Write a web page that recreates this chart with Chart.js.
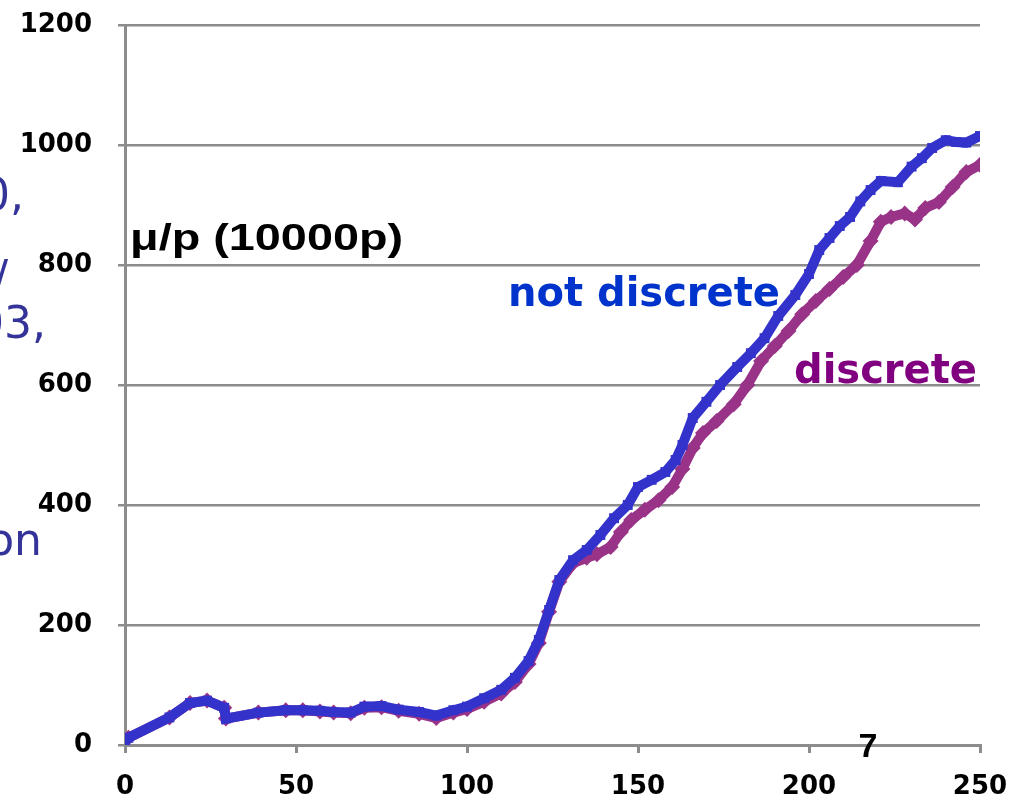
<!DOCTYPE html>
<html>
<head>
<meta charset="utf-8">
<script src="https://cdn.jsdelivr.net/npm/chart.js@4.4.0/dist/chart.umd.min.js"></script>
<style>
  html, body { margin: 0; padding: 0; background: #ffffff; }
  canvas { display: block; }
</style>
</head>
<body>
<canvas id="muChart" width="1012" height="807"></canvas>
<script>
// muons per proton vs. step, continuous vs. discrete energy loss
var notDiscreteX = [0, 1, 13, 19, 24, 29, 29.5, 39, 47, 52, 57, 61, 66, 70, 75, 80, 86, 91, 96, 100,
    105, 110, 114, 118, 121, 124, 127, 131, 135, 139, 143, 147, 150, 154, 158, 161, 163, 166, 170,
    174, 179, 183, 187, 191, 196, 200, 203, 206, 209, 212, 215, 218, 221, 226, 230, 233, 236, 240,
    243, 246, 250];
var notDiscreteY = [8, 12, 46, 70, 74, 62, 44, 54, 58, 58, 57, 55, 54, 64, 65, 59, 55, 49, 58, 64,
    78, 92, 112, 140, 175, 225, 275, 308, 325, 350, 378, 400, 430, 442, 455, 475, 500, 545, 572,
    600, 630, 653, 678, 715, 750, 785, 825, 845, 865, 880, 906, 925, 940, 938, 964, 978, 995, 1008,
    1005, 1004, 1015];

var discreteX = [0, 1, 13, 19, 24, 29, 29.5, 39, 47, 52, 57, 61, 66, 70, 75, 80, 86, 91, 96, 100,
    105, 110, 114, 118, 121, 124, 127, 131, 135, 138, 142, 145, 148, 152, 156, 160, 163, 166, 169,
    173, 178, 182, 186, 190, 194, 198, 202, 206, 210, 214, 218, 221, 224, 228, 231, 234, 238, 242,
    246, 250];
var discreteY = [8, 12, 46, 70, 74, 62, 44, 54, 58, 58, 56, 54, 53, 62, 63, 57, 52, 45, 54, 60,
    72, 86, 105, 135, 170, 222, 272, 303, 312, 318, 330, 355, 375, 392, 408, 430, 460, 495, 520,
    540, 568, 600, 640, 665, 690, 718, 740, 760, 780, 800, 840, 872, 880, 886, 876, 895, 905, 930,
    955, 967];

var yTicks = [0, 200, 400, 600, 800, 1000, 1200];
var xTicks = [0, 50, 100, 150, 200, 250];

function toPoints(xs, ys) {
    return xs.map(function (x, i) { return { x: x, y: ys[i] }; });
}

function plainLabel(value) {
    return String(value);
}

var gray = '#8c8c8c';
var tickFont = { family: '"Comic Sans MS", "DejaVu Sans", sans-serif', size: 26, weight: 'bold' };

// free text drawn on top of the plot
var annotations = {
    id: 'annotations',
    afterDraw: function (chart) {
        var c = chart.ctx;
        c.save();
        c.textBaseline = 'alphabetic';

        c.fillStyle = '#000000';
        c.textAlign = 'left';
        c.font = 'bold 36px "Liberation Sans", "DejaVu Sans", sans-serif';
        c.save();
        c.translate(130, 250);
        c.scale(1.3, 1.05);
        c.fillText('\u03bc/p (10000p)', 0, 0);
        c.restore();

        c.font = 'bold 40px "Comic Sans MS", "DejaVu Sans", sans-serif';
        c.fillStyle = '#0033cc';
        c.fillText('not discrete', 508, 306);
        c.fillStyle = '#800080';
        c.fillText('discrete', 794, 383);

        c.fillStyle = '#000000';
        c.font = 'bold 34px "Liberation Sans", sans-serif';
        c.textAlign = 'center';
        c.fillText('7', 868, 757);

        // side text running off the left edge
        c.fillStyle = '#333399';
        c.textAlign = 'right';
        c.font = '44px "Comic Sans MS", "DejaVu Sans", sans-serif';
        c.fillText('0,', 24, 210);
        c.fillText('/', 8, 292);
        c.fillText('03,', 46, 338);
        c.fillText('on', 42, 555);
        c.restore();
    }
};

var ctx = document.getElementById('muChart').getContext('2d');
var muChart = new Chart(ctx, {
    type: 'line',
    data: {
        datasets: [
            {
                label: 'not discrete',
                data: toPoints(notDiscreteX, notDiscreteY),
                borderColor: '#3333cc',
                backgroundColor: '#3333cc',
                borderWidth: 10,
                pointStyle: 'rect',
                pointRadius: 7,
                pointBorderWidth: 0,
                tension: 0,
                order: 0
            },
            {
                label: 'discrete',
                data: toPoints(discreteX, discreteY),
                borderColor: '#993388',
                backgroundColor: '#993388',
                borderWidth: 10,
                pointStyle: 'rectRot',
                pointRadius: 8,
                pointBorderWidth: 0,
                tension: 0,
                order: 1
            }
        ]
    },
    options: {
        responsive: false,
        animation: false,
        layout: { padding: { top: 25, right: 32, bottom: 0, left: 0 } },
        plugins: {
            legend: { display: false },
            tooltip: { enabled: false }
        },
        scales: {
            x: {
                type: 'linear',
                min: 0,
                max: 250,
                afterBuildTicks: function (scale) {
                    scale.ticks = xTicks.map(function (v) { return { value: v }; });
                },
                afterFit: function (scale) {
                    scale.height = 62;
                    scale.paddingLeft = 0;
                    scale.paddingRight = 0;
                },
                border: { display: true, color: gray, width: 3 },
                grid: { drawOnChartArea: false, drawTicks: true, tickLength: 8, color: gray, lineWidth: 3 },
                ticks: { color: '#000000', font: tickFont, padding: 19, maxRotation: 0, callback: plainLabel }
            },
            y: {
                min: 0,
                max: 1200,
                afterBuildTicks: function (scale) {
                    scale.ticks = yTicks.map(function (v) { return { value: v }; });
                },
                afterFit: function (scale) {
                    scale.width = 125;
                    scale.paddingTop = 0;
                    scale.paddingBottom = 0;
                },
                border: { display: true, color: gray, width: 3 },
                grid: { color: gray, lineWidth: 2.5, tickLength: 7 },
                ticks: { color: '#000000', font: tickFont, padding: 26, callback: plainLabel }
            }
        }
    },
    plugins: [annotations]
});
</script>
</body>
</html>
